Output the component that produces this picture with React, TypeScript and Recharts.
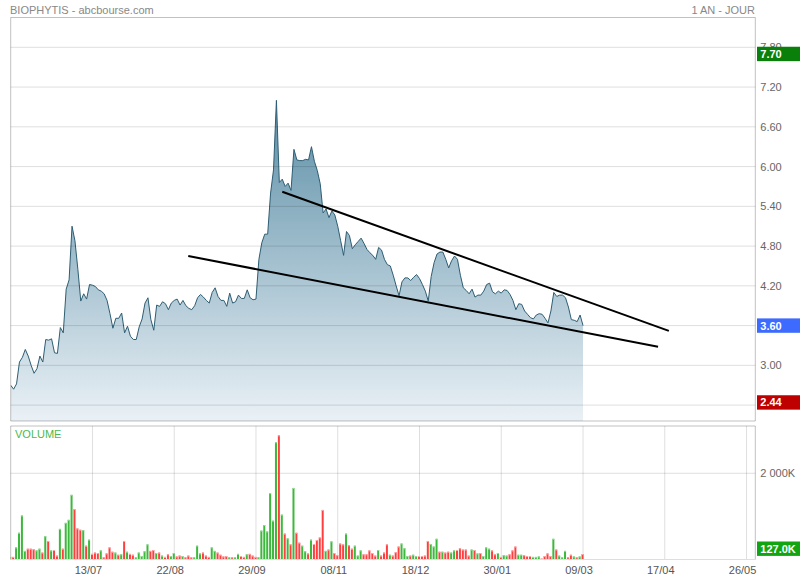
import React from "react";
import {
  ComposedChart,
  Area,
  Bar,
  XAxis,
  YAxis,
  CartesianGrid,
  ReferenceLine,
} from "recharts";

// daily closes (one per trading day, left to right)
const closes = [
  2.70, 2.64, 2.72, 3.05, 3.12, 3.24, 3.14, 3.00, 2.88, 2.95,
  3.14, 3.05, 3.39, 3.38, 3.40, 3.19, 3.18, 3.57, 3.49, 4.15,
  4.29, 5.10, 4.88, 4.45, 3.97, 4.08, 4.00, 4.22, 4.21, 4.19,
  4.14, 4.12, 4.08, 3.98, 3.78, 3.56, 3.71, 3.71, 3.79, 3.49,
  3.59, 3.44, 3.39, 3.39, 3.58, 3.70, 3.94, 4.02, 3.69, 3.53,
  3.91, 3.89, 3.96, 3.93, 3.84, 3.94, 3.98, 4.00, 3.91, 3.98,
  3.90, 3.86, 3.84, 3.90, 4.02, 4.07, 4.03, 3.98, 3.94, 4.10,
  4.17, 4.04, 3.98, 3.98, 3.89, 4.09, 3.94, 3.96, 4.06, 4.01,
  4.01, 4.14, 4.02, 3.99, 4.00, 4.60, 4.85, 4.98, 4.98, 5.60,
  5.95, 7.00, 5.76, 5.81, 5.70, 5.75, 5.64, 6.26, 6.10, 6.09,
  6.09, 6.11, 6.10, 6.30, 6.08, 5.94, 5.74, 5.30, 5.36, 5.23,
  5.33, 5.27, 5.10, 4.88, 4.66, 5.02, 4.96, 4.76, 4.82, 4.87,
  4.92, 4.84, 4.75, 4.70, 4.66, 4.60, 4.78, 4.74, 4.60, 4.52,
  4.50, 4.36, 4.20, 4.05, 4.26, 4.32, 4.32, 4.28, 4.33, 4.37,
  4.31, 4.22, 4.12, 3.97, 4.34, 4.55, 4.68, 4.71, 4.71, 4.60,
  4.47, 4.58, 4.65, 4.60, 4.36, 4.17, 4.13, 4.08, 4.15, 4.03,
  4.06, 4.06, 4.12, 4.22, 4.24, 4.11, 4.08, 4.12, 4.09, 4.14,
  4.13, 4.07, 3.98, 3.84, 3.93, 3.92, 3.82, 3.77, 3.72, 3.70,
  3.76, 3.78, 3.77, 3.71, 3.64, 3.82, 4.10, 4.04, 4.06, 4.06,
  4.02, 3.88, 3.69, 3.68, 3.66, 3.76, 3.60,
];

// daily volume, thousands of shares
const volumes = [
  60, 60, 280, 620, 1020, 200, 250, 250, 240, 210,
  250, 160, 540, 430, 210, 220, 90, 710, 250, 850,
  920, 1500, 1170, 720, 690, 680, 320, 460, 130, 160,
  150, 210, 50, 140, 280, 180, 160, 110, 120, 430,
  180, 130, 110, 50, 160, 80, 190, 350, 200, 220,
  150, 160, 90, 60, 120, 80, 150, 70, 90, 80,
  50, 90, 50, 50, 320, 140, 160, 90, 60, 280,
  200, 160, 110, 70, 80, 50, 50, 50, 130, 80,
  60, 120, 130, 90, 60, 50, 670, 800, 650, 1540,
  900, 2720, 2880, 1040, 600, 490, 350, 1660, 620, 390,
  320, 190, 140, 460, 360, 450, 510, 1150, 200, 230,
  420, 150, 100, 370, 350, 600, 330, 250, 320, 90,
  210, 120, 120, 210, 150, 90, 220, 90, 160, 350,
  110, 90, 170, 300, 370, 260, 80, 90, 110, 80,
  80, 80, 90, 430, 360, 300, 480, 180, 180, 160,
  180, 160, 210, 220, 260, 230, 230, 90, 230, 220,
  140, 150, 80, 280, 250, 210, 120, 150, 60, 100,
  90, 120, 210, 300, 110, 110, 100, 80, 80, 60,
  60, 70, 20, 80, 140, 80, 480, 230, 90, 50,
  200, 50, 110, 70, 50, 70, 127,
];

// 1 = up day (green bar), 0 = down day (red bar)
const volumeUp = [
  1, 0, 1, 1, 1, 1, 0, 0, 0, 1,
  1, 0, 1, 0, 1, 0, 0, 1, 0, 1,
  1, 1, 0, 0, 0, 1, 0, 1, 0, 0,
  0, 1, 0, 0, 0, 0, 1, 0, 1, 0,
  1, 0, 0, 1, 1, 1, 1, 1, 0, 0,
  1, 0, 1, 0, 0, 1, 1, 0, 0, 1,
  0, 0, 0, 1, 1, 1, 0, 0, 0, 1,
  1, 0, 0, 0, 0, 1, 0, 1, 1, 0,
  0, 1, 0, 0, 0, 1, 1, 1, 1, 1,
  1, 1, 0, 1, 0, 1, 0, 1, 0, 0,
  1, 1, 0, 1, 0, 0, 0, 0, 1, 0,
  1, 0, 0, 0, 0, 1, 0, 0, 1, 1,
  1, 0, 0, 0, 0, 0, 1, 0, 0, 0,
  1, 0, 0, 0, 1, 1, 1, 0, 1, 1,
  0, 0, 0, 0, 1, 1, 1, 0, 1, 0,
  0, 1, 1, 0, 0, 0, 0, 0, 1, 0,
  1, 0, 1, 1, 1, 0, 0, 1, 0, 1,
  1, 0, 0, 0, 1, 1, 0, 0, 0, 1,
  1, 1, 0, 0, 0, 0, 1, 0, 1, 1,
  1, 0, 0, 1, 0, 1, 0,
];

// x axis: trading-day index, labelled every 28 sessions
const dayDomain = [0, 255];
const dayTicks = [28, 56, 84, 112, 140, 168, 196, 224, 252];
const dayLabels = ["13/07", "22/08", "29/09", "08/11", "18/12", "30/01", "09/03", "17/04", "26/05"];

const priceDomain = [2.16, 8.25];
const priceTicks = [2.4, 3.0, 3.6, 4.2, 4.8, 5.4, 6.0, 6.6, 7.2, 7.8];
const hiddenPriceLabels = [2.4]; // sits under the low badge
const volumeDomain = [0, 3097];
const volumeTicks = [2000];

const yearHigh = 7.7;
const yearLow = 2.44;
const lastClose = 3.6;
const lastVolume = 127;

// hand-drawn trend lines (day index, price)
const upperTrend = [
  { x: 93, y: 5.62 },
  { x: 225.4, y: 3.52 },
];
const lowerTrend = [
  { x: 60.8, y: 4.65 },
  { x: 221.7, y: 3.28 },
];

const priceData = closes.map((price, day) => ({ day, price }));
const volumeData = volumes.map((volume, day) => ({ day, volume, up: volumeUp[day] }));

const FONT = "'Liberation Sans', Arial, sans-serif";
const GRID = "rgba(0,0,0,0.13)";
const GREEN = "#3cb83c";
const RED = "#ff3f3f";

const RightTick = (props: any) => {
  const { x, y, payload, format, hidden } = props;
  if (hidden && hidden.includes(payload.value)) return null;
  return (
    <text x={x} y={y} dy={4} fill="#666" fontSize={11} fontFamily={FONT} textAnchor="start">
      {format(payload.value)}
    </text>
  );
};

const DateTick = (props: any) => {
  const { x, y, payload } = props;
  const k = dayTicks.indexOf(payload.value);
  if (k < 0) return null;
  return (
    <text x={x - 4} y={y} dy={14.5} fill="#555" fontSize={11} fontFamily={FONT} textAnchor="middle">
      {dayLabels[k]}
    </text>
  );
};

// coloured box sitting on the right axis
const Badge = (props: any) => {
  const { viewBox, text, color, maxY } = props;
  if (!viewBox) return null;
  const right = viewBox.x + viewBox.width;
  let cy = viewBox.y;
  if (maxY !== undefined) cy = Math.min(cy, maxY);
  return (
    <g>
      <rect x={right + 1.7} y={cy - 7.2} width={44} height={14.4} fill={color} />
      <text
        x={right + 5}
        y={cy}
        dy={4}
        fill="#fff"
        fontSize={11}
        fontWeight="bold"
        fontFamily={FONT}
      >
        {text}
      </text>
    </g>
  );
};

const VolumeBar = (props: any) => {
  const { x, y, width, height, payload } = props;
  if (!height || height <= 0) return null;
  const up = payload.up === 1;
  return (
    <g>
      <rect x={x} y={y} width={width} height={height} fill={up ? GREEN : RED} />
      <rect x={x} y={y} width={width} height={1} fill={up ? "#98dc98" : "#ffa8a8"} />
    </g>
  );
};

const PriceChart = () => (
  <ComposedChart
    width={800}
    height={430}
    data={priceData}
    margin={{ top: 17.5, right: 0, bottom: 9, left: 10.7 }}
  >
    <defs>
      <linearGradient id="priceFill" x1="0" y1="0" x2="0" y2="1">
        <stop offset="0%" stopColor="#5b8ea6" />
        <stop offset="100%" stopColor="#eaf1f6" />
      </linearGradient>
    </defs>
    <XAxis
      dataKey="day"
      type="number"
      domain={dayDomain}
      ticks={dayTicks}
      allowDataOverflow
      height={0}
      tick={false}
      axisLine={false}
      tickLine={false}
    />
    <YAxis
      orientation="right"
      type="number"
      domain={priceDomain}
      ticks={priceTicks}
      allowDataOverflow
      interval={0}
      width={44.7}
      axisLine={false}
      tickLine={false}
      tickSize={0}
      tickMargin={5}
      tick={<RightTick format={(v: number) => v.toFixed(2)} hidden={hiddenPriceLabels} />}
    />
    <Area
      dataKey="price"
      type="linear"
      stroke="#2e5d72"
      strokeWidth={1}
      fill="url(#priceFill)"
      fillOpacity={1}
      dot={false}
      activeDot={false}
      isAnimationActive={false}
      zIndex={100}
    />
    <CartesianGrid stroke={GRID} zIndex={200} />
    <ReferenceLine x={dayDomain[0]} stroke={GRID} zIndex={200} />
    <ReferenceLine x={dayDomain[1]} stroke={GRID} zIndex={200} />
    <ReferenceLine y={priceDomain[1]} stroke={GRID} zIndex={200} />
    <ReferenceLine y={priceDomain[0]} stroke={GRID} zIndex={200} />
    <ReferenceLine segment={upperTrend} stroke="#000" strokeWidth={2} zIndex={400} />
    <ReferenceLine segment={lowerTrend} stroke="#000" strokeWidth={2} zIndex={400} />
    <ReferenceLine
      y={yearHigh}
      stroke="none"
      zIndex={2100}
      label={<Badge text={yearHigh.toFixed(2)} color="#0a800a" />}
    />
    <ReferenceLine
      y={lastClose}
      stroke="none"
      zIndex={2100}
      label={<Badge text={lastClose.toFixed(2)} color="#3d6bff" />}
    />
    <ReferenceLine
      y={yearLow}
      stroke="none"
      zIndex={2100}
      label={<Badge text={yearLow.toFixed(2)} color="#bf0000" />}
    />
  </ComposedChart>
);

const VolumeChart = () => (
  <ComposedChart
    width={800}
    height={160}
    data={volumeData}
    margin={{ top: 6, right: 0, bottom: 0, left: 10.7 }}
  >
    <XAxis
      dataKey="day"
      type="number"
      domain={dayDomain}
      ticks={dayTicks}
      allowDataOverflow
      interval={0}
      height={20.5}
      axisLine={{ stroke: "#dedede" }}
      tickLine={false}
      tickSize={0}
      tickMargin={0}
      tick={<DateTick />}
    />
    <YAxis
      orientation="right"
      type="number"
      domain={volumeDomain}
      ticks={volumeTicks}
      allowDataOverflow
      interval={0}
      width={44.7}
      axisLine={false}
      tickLine={false}
      tickSize={0}
      tickMargin={5}
      tick={<RightTick format={(v: number) => (v / 1000).toFixed(0) + " 000K"} />}
    />
    <CartesianGrid stroke={GRID} />
    <ReferenceLine x={dayDomain[0]} stroke={GRID} />
    <ReferenceLine x={dayDomain[1]} stroke={GRID} />
    <ReferenceLine y={volumeDomain[1]} stroke={GRID} />
    <Bar dataKey="volume" barSize={2} shape={<VolumeBar />} isAnimationActive={false} />
    <ReferenceLine
      y={lastVolume}
      stroke="none"
      zIndex={2100}
      label={<Badge text={lastVolume.toFixed(1) + "K"} color="#12a512" maxY={128.7} />}
    />
  </ComposedChart>
);

const textStyle: React.CSSProperties = {
  position: "absolute",
  fontFamily: FONT,
  fontSize: 11,
  lineHeight: "13px",
  color: "#888",
  whiteSpace: "nowrap",
};

export default function App() {
  return (
    <div style={{ position: "relative", width: 800, height: 580, background: "#fff" }}>
      <style>{"body{margin:0}"}</style>
      <div style={{ position: "absolute", left: 0, top: 0 }}>
        <PriceChart />
      </div>
      <div style={{ position: "absolute", left: 0, top: 420 }}>
        <VolumeChart />
      </div>
      <div style={{ ...textStyle, left: 10, top: 3.5 }}>BIOPHYTIS - abcbourse.com</div>
      <div style={{ ...textStyle, right: 45, top: 3.5 }}>1 AN - JOUR</div>
      <div style={{ ...textStyle, left: 15, top: 427.5, color: "#4db84d" }}>VOLUME</div>
    </div>
  );
}
